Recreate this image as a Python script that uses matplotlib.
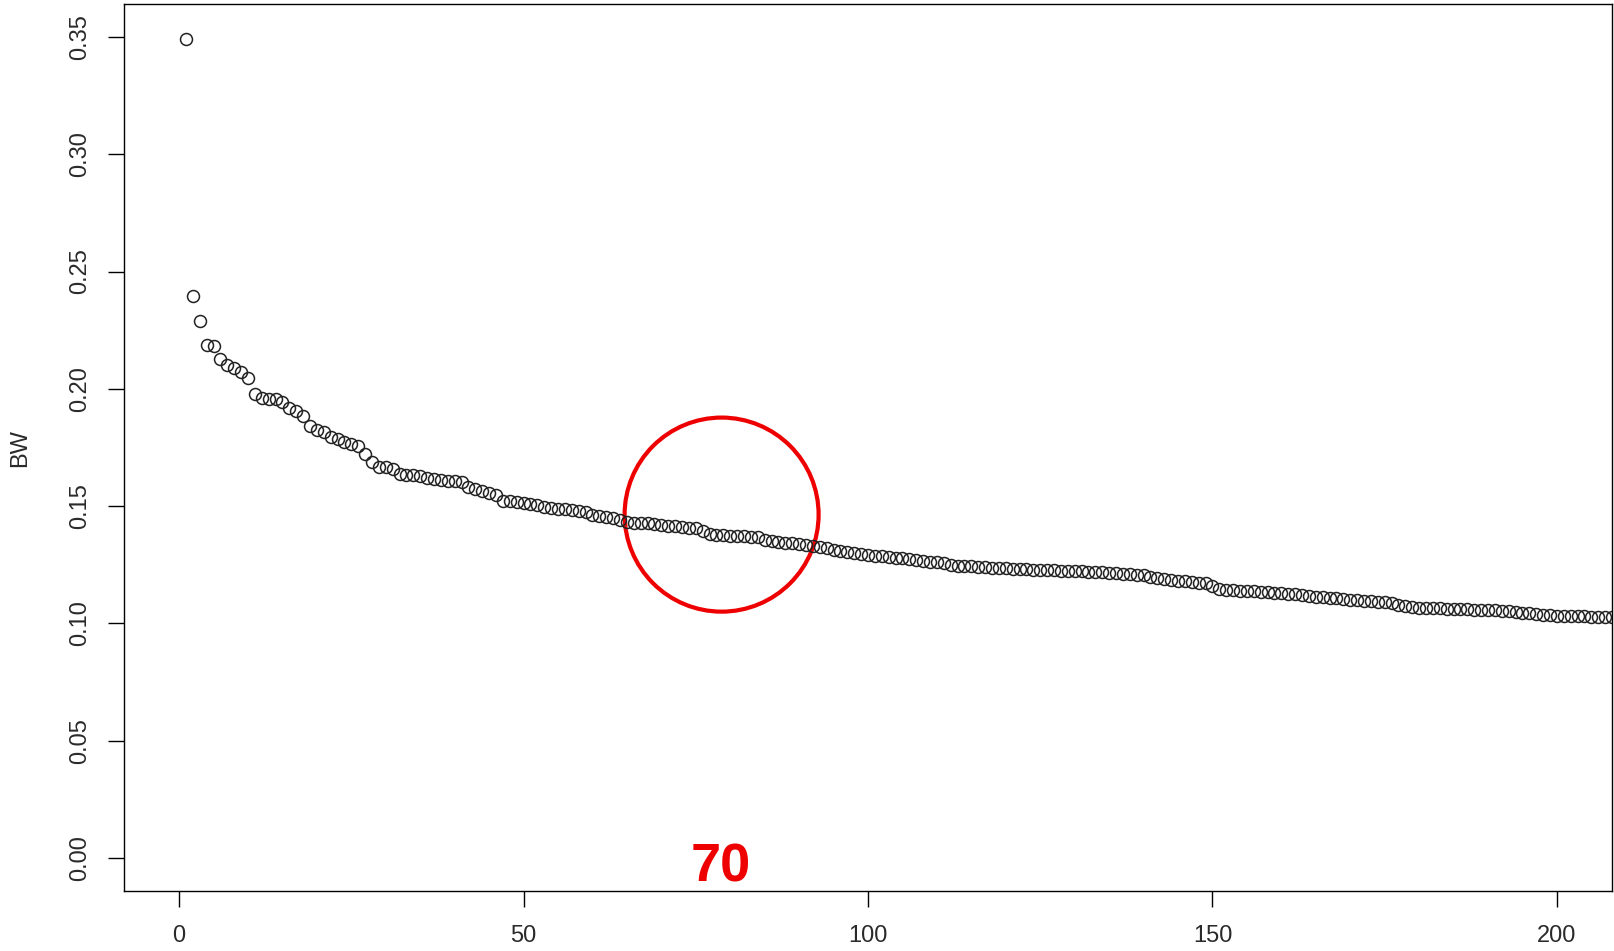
import matplotlib
matplotlib.use("Agg")
import matplotlib.pyplot as plt
from matplotlib.patches import Ellipse
import numpy as np

# BW value for each index
bw = [
	0.3490, 0.2397, 0.2290, 0.2185, 0.2181, 0.2128, 0.2101, 0.2090, 0.2071, 0.2047,
	0.1979, 0.1961, 0.1958, 0.1956, 0.1945, 0.1920, 0.1905, 0.1885, 0.1842, 0.1825,
	0.1816, 0.1795, 0.1786, 0.1772, 0.1764, 0.1756, 0.1724, 0.1690, 0.1667, 0.1665,
	0.1660, 0.1637, 0.1633, 0.1632, 0.1628, 0.1622, 0.1616, 0.1612, 0.1609, 0.1606,
	0.1603, 0.1580, 0.1574, 0.1566, 0.1557, 0.1546, 0.1524, 0.1521, 0.1518, 0.1515,
	0.1508, 0.1503, 0.1497, 0.1493, 0.1489, 0.1486, 0.1482, 0.1478, 0.1474, 0.1462,
	0.1456, 0.1452, 0.1448, 0.1441, 0.1432, 0.1430, 0.1428, 0.1427, 0.1425, 0.1420,
	0.1417, 0.1414, 0.1411, 0.1409, 0.1406, 0.1395, 0.1380, 0.1376, 0.1375, 0.1374,
	0.1372, 0.1371, 0.1369, 0.1367, 0.1356, 0.1352, 0.1348, 0.1344, 0.1341, 0.1337,
	0.1333, 0.1329, 0.1325, 0.1320, 0.1315, 0.1310, 0.1305, 0.1300, 0.1296, 0.1292,
	0.1289, 0.1286, 0.1283, 0.1280, 0.1277, 0.1274, 0.1271, 0.1268, 0.1264, 0.1261,
	0.1256, 0.1250, 0.1247, 0.1245, 0.1243, 0.1241, 0.1239, 0.1238, 0.1237, 0.1235,
	0.1234, 0.1233, 0.1231, 0.1230, 0.1229, 0.1228, 0.1226, 0.1225, 0.1224, 0.1223,
	0.1222, 0.1221, 0.1220, 0.1218, 0.1216, 0.1214, 0.1212, 0.1210, 0.1208, 0.1205,
	0.1198, 0.1194, 0.1190, 0.1186, 0.1183, 0.1180, 0.1177, 0.1174, 0.1171, 0.1160,
	0.1146, 0.1142, 0.1141, 0.1140, 0.1139, 0.1138, 0.1136, 0.1134, 0.1132, 0.1130,
	0.1127, 0.1124, 0.1121, 0.1118, 0.1114, 0.1111, 0.1109, 0.1107, 0.1104, 0.1101,
	0.1099, 0.1097, 0.1095, 0.1093, 0.1090, 0.1086, 0.1080, 0.1074, 0.1070, 0.1068,
	0.1066, 0.1065, 0.1064, 0.1063, 0.1062, 0.1061, 0.1060, 0.1059, 0.1058, 0.1057,
	0.1056, 0.1054, 0.1052, 0.1049, 0.1046, 0.1043, 0.1040, 0.1038, 0.1036, 0.1034,
	0.1033, 0.1032, 0.1031, 0.1030, 0.1029, 0.1028, 0.1027, 0.1026,
]
x_ticks = [0, 50, 100, 150, 200]
y_ticks = [0.00, 0.05, 0.10, 0.15, 0.20, 0.25, 0.30, 0.35]
y_tick_labels = ["0.00", "0.05", "0.10", "0.15", "0.20", "0.25", "0.30", "0.35"]
marked_k = 70

plt.rcParams["font.family"] = ["Liberation Sans", "DejaVu Sans"]

idx = np.arange(1, len(bw) + 1)

fig = plt.figure(figsize=(16.14, 9.51), dpi=100)
ax = fig.add_axes([124 / 1614, 1 - 891 / 951, 1488 / 1614, 887 / 951])

ax.plot(idx, bw, linestyle="none", marker="o", markersize=8.6,
	markerfacecolor="none", markeredgecolor="#222222", markeredgewidth=1.1,
	clip_on=True)

# R style limits: 4% padding around c(0, 200) and c(0, 0.35)
ax.set_xlim(-8, 208)
ax.set_ylim(-0.014, 0.364)
ax.set_xticks(x_ticks)
ax.set_yticks(y_ticks)
ax.set_yticklabels(y_tick_labels, rotation=90, va="center")
ax.tick_params(axis="both", direction="out", length=11.5, width=1.0,
	labelsize=17, colors="black", labelcolor="#2a2a2a")
ax.tick_params(axis="x", pad=13)
ax.tick_params(axis="y", pad=12)
for sp in ax.spines.values():
	sp.set_linewidth(1.0)
	sp.set_color("black")

fig.text(20.6 / 1614, 1 - 448 / 951, "BW", rotation=90, ha="center", va="center",
	fontsize=17, color="#2a2a2a")

# red circle + label drawn over the elbow region
circ = Ellipse((78.75, 0.1464), width=28.16, height=0.0827, fill=False,
	edgecolor="#ee0000", linewidth=3.0, clip_on=False)
ax.add_patch(circ)
ax.text(78.6, -0.004, str(marked_k), color="#ee0000", fontsize=39,
	fontweight="bold", ha="center", va="center")

fig.savefig("out.png", dpi=100)
